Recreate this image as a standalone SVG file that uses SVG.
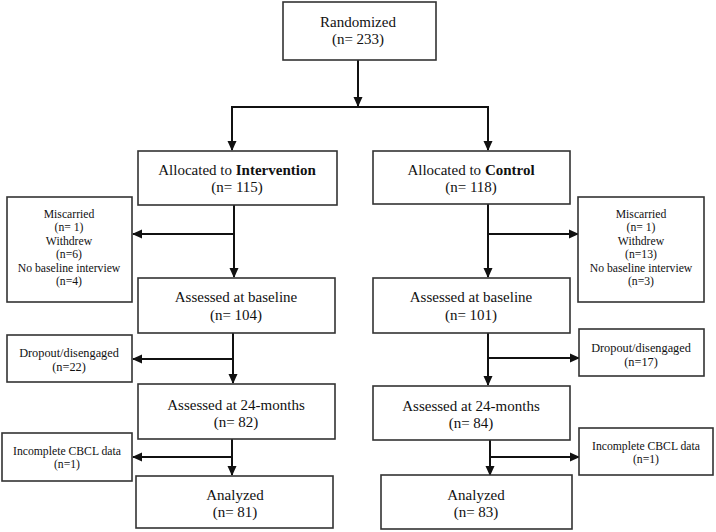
<svg xmlns="http://www.w3.org/2000/svg" width="716" height="532" viewBox="0 0 716 532">
<defs>
<marker id="ah" markerWidth="10" markerHeight="10" refX="9" refY="5" orient="auto" markerUnits="userSpaceOnUse">
<path d="M0,0.5 L10,5 L0,9.5 Z" fill="#111"/>
</marker>
</defs>
<style>
.box{fill:#fff;stroke:#333;stroke-width:1.6}
.t{font-family:'Liberation Serif',Tinos,'Times New Roman',Times,'DejaVu Serif',serif;font-size:15px;fill:#111;text-anchor:middle}
.s{font-family:'Liberation Serif',Tinos,'Times New Roman',Times,'DejaVu Serif',serif;font-size:11.7px;fill:#111;text-anchor:middle}
.d{font-size:12.3px}
.ln{fill:none;stroke:#111;stroke-width:2}
.ar{fill:none;stroke:#111;stroke-width:2;marker-end:url(#ah)}
</style>
<rect width="716" height="532" fill="#fff"/>
<g id="connectors">
<path class="ar" d="M358,60 V106"/>
<path class="ln" d="M231,107 H489"/>
<path class="ar" d="M232,107 V150"/>
<path class="ar" d="M488,107 V150"/>
<path class="ar" d="M234,205 V277"/>
<path class="ar" d="M234,234 H133"/>
<path class="ar" d="M488,204 V277"/>
<path class="ar" d="M488,234 H578"/>
<path class="ar" d="M233,333 V383"/>
<path class="ar" d="M233,359 H133"/>
<path class="ar" d="M488,333 V385"/>
<path class="ar" d="M488,358 H579"/>
<path class="ar" d="M232,439 V475"/>
<path class="ar" d="M232,457 H133"/>
<path class="ar" d="M490,440 V475"/>
<path class="ar" d="M490,457 H579"/>
</g>
<g id="randomized">
<rect class="box" x="283" y="2" width="153" height="58"/>
<text class="t" x="358" y="27">Randomized</text>
<text class="t" x="358" y="44">(n= 233)</text>
</g>
<g id="intervention">
<rect class="box" x="138" y="151" width="199" height="54"/>
<text class="t" x="237" y="175">Allocated to <tspan font-weight="bold">Intervention</tspan></text>
<text class="t" x="237" y="192">(n= 115)</text>
</g>
<g id="control">
<rect class="box" x="373" y="151" width="197" height="53"/>
<text class="t" x="471" y="175">Allocated to <tspan font-weight="bold">Control</tspan></text>
<text class="t" x="471" y="192">(n= 118)</text>
</g>
<g id="excl-int-baseline">
<rect class="box" x="7" y="197" width="125" height="105"/>
<text class="s" x="69" y="218">Miscarried</text>
<text class="s" x="69" y="231">(n= 1)</text>
<text class="s" x="69" y="245">Withdrew</text>
<text class="s" x="69" y="258">(n=6)</text>
<text class="s" x="69" y="272">No baseline interview</text>
<text class="s" x="69" y="285">(n=4)</text>
</g>
<g id="excl-ctl-baseline">
<rect class="box" x="578" y="197" width="126" height="105"/>
<text class="s" x="641" y="218">Miscarried</text>
<text class="s" x="641" y="231">(n= 1)</text>
<text class="s" x="641" y="245">Withdrew</text>
<text class="s" x="641" y="258">(n=13)</text>
<text class="s" x="641" y="272">No baseline interview</text>
<text class="s" x="641" y="285">(n=3)</text>
</g>
<g id="int-baseline">
<rect class="box" x="138" y="278" width="197" height="55"/>
<text class="t" x="236" y="302">Assessed at baseline</text>
<text class="t" x="236" y="320">(n= 104)</text>
</g>
<g id="ctl-baseline">
<rect class="box" x="373" y="278" width="197" height="55"/>
<text class="t" x="471" y="302">Assessed at baseline</text>
<text class="t" x="471" y="320">(n= 101)</text>
</g>
<g id="int-dropout">
<rect class="box" x="7" y="335" width="125" height="47"/>
<text class="s d" x="69" y="357">Dropout/disengaged</text>
<text class="s d" x="69" y="371">(n=22)</text>
</g>
<g id="ctl-dropout">
<rect class="box" x="579" y="329" width="125" height="47"/>
<text class="s d" x="641" y="352">Dropout/disengaged</text>
<text class="s d" x="641" y="366">(n=17)</text>
</g>
<g id="int-24m">
<rect class="box" x="138" y="384" width="197" height="55"/>
<text class="t" x="236" y="410">Assessed at 24-months</text>
<text class="t" x="236" y="427">(n= 82)</text>
</g>
<g id="ctl-24m">
<rect class="box" x="373" y="386" width="197" height="54"/>
<text class="t" x="471" y="411">Assessed at 24-months</text>
<text class="t" x="471" y="428">(n= 84)</text>
</g>
<g id="int-cbcl">
<rect class="box" x="2" y="433" width="130" height="48"/>
<text class="s" x="67" y="455">Incomplete CBCL data</text>
<text class="s" x="67" y="468">(n=1)</text>
</g>
<g id="ctl-cbcl">
<rect class="box" x="579" y="428" width="134" height="47"/>
<text class="s" x="646" y="450">Incomplete CBCL data</text>
<text class="s" x="646" y="463">(n=1)</text>
</g>
<g id="int-analyzed">
<rect class="box" x="136" y="476" width="197" height="52"/>
<text class="t" x="235" y="500">Analyzed</text>
<text class="t" x="235" y="517">(n= 81)</text>
</g>
<g id="ctl-analyzed">
<rect class="box" x="381" y="475" width="191" height="54"/>
<text class="t" x="476" y="500">Analyzed</text>
<text class="t" x="476" y="517">(n= 83)</text>
</g>
</svg>
